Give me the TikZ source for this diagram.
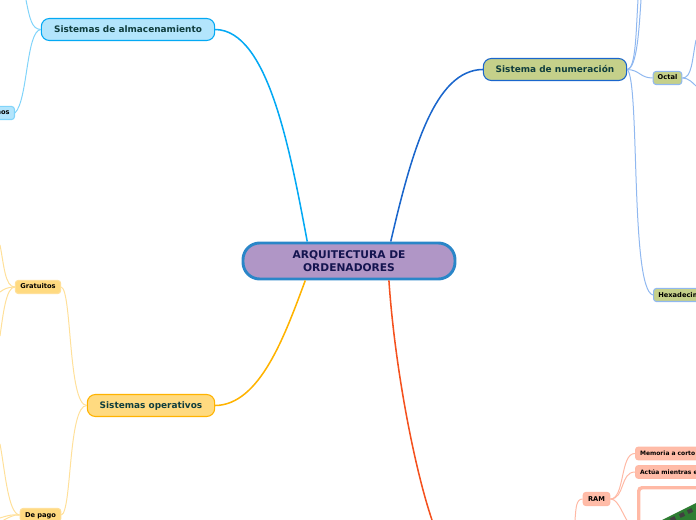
\documentclass[tikz,border=0pt]{standalone}
\usepackage{fontspec}
\setmainfont{DejaVu Sans}
\usetikzlibrary{positioning}
\definecolor{rootfill}{HTML}{B096C6}
\definecolor{rootline}{HTML}{2A86C8}
\definecolor{rootink}{HTML}{14144F}
\definecolor{topicink}{HTML}{0F3D3D}
\definecolor{storeline}{HTML}{03A9F4}
\definecolor{storefill}{HTML}{B3E5FC}
\definecolor{storethin}{HTML}{81D4FA}
\definecolor{numline}{HTML}{1A66CC}
\definecolor{numfill}{HTML}{C5D08A}
\definecolor{numthin}{HTML}{90B8F0}
\definecolor{opline}{HTML}{FFB300}
\definecolor{opfill}{HTML}{FFDA80}
\definecolor{opthin}{HTML}{FFE09A}
\definecolor{hardline}{HTML}{F4511E}
\definecolor{hardfill}{HTML}{FFBCA8}
\definecolor{hardthin}{HTML}{FFB9A5}
\definecolor{stickgreen}{HTML}{2E7D32}
\tikzset{
  rootbox/.style={draw=rootline, fill=rootfill, line width=2.2pt, rounded corners=12.5pt, minimum width=159pt, minimum height=27pt, inner sep=0pt, align=center, text=rootink, font=\fontsize{8}{10}\selectfont\bfseries},
  topicbox/.style={draw=#1, line width=.8pt, rounded corners=6pt, minimum height=16.5pt, inner sep=0pt, text height=5pt, text depth=1pt, text=topicink, font=\fontsize{6.7}{8}\selectfont\bfseries},
  subbox/.style={draw=#1, line width=.8pt, rounded corners=2.2pt, minimum height=9.8pt, inner sep=0pt, text height=3.8pt, text depth=.8pt, text=black, font=\fontsize{5}{6}\selectfont\bfseries},
  leafbox/.style={draw=hardthin, fill=hardfill, line width=.8pt, rounded corners=2.2pt, minimum height=9.6pt, text width=60pt, inner xsep=3.4pt, inner ysep=0pt, align=left, text=black, font=\fontsize{4.5}{6}\selectfont\bfseries},
  mainlink/.style={draw=#1, line width=1.15pt},
  thinlink/.style={draw=#1, line width=.75pt}
}
\begin{document}
\begin{tikzpicture}[x=0.75pt, y=-0.75pt]
  \clip (0,0) rectangle (696,520);
  \node[rootbox] (root) at (349,261) {ARQUITECTURA DE\\ORDENADORES};
  \node[topicbox=storeline, fill=storefill, minimum width=130pt] (store) at (128,29.5) {Sistemas de almacenamiento};
  \node[topicbox=numline, fill=numfill, minimum width=107.5pt] (num) at (555,69.5) {Sistema de numeración};
  \node[topicbox=opline, fill=opfill, minimum width=95.5pt] (ops) at (151,405.5) {Sistemas operativos};
  % subtopics
  \node[subbox=storethin, fill=storefill, text width=30pt, align=right, inner xsep=3.6pt, anchor=east] (ext) at (15,113) {nos};
  \node[subbox=numthin, fill=numfill, minimum width=21.5pt] (oct) at (667.5,78) {Octal};
  \node[subbox=numthin, fill=numfill, text width=50pt, inner xsep=3.6pt, align=left, anchor=west] (hex) at (653,295) {Hexadecim};
  \node[subbox=opthin, fill=opfill, minimum width=34pt] (free) at (38,287) {Gratuitos};
  \node[subbox=opthin, fill=opfill, minimum width=30.5pt] (paid) at (40.5,515) {De pago};
  \node[subbox=hardthin, fill=hardfill, minimum width=20pt, minimum height=10pt] (ram) at (596.5,499) {RAM};
  \node[leafbox, anchor=west] (short) at (635,453.5) {Memoria a corto};
  \node[leafbox, anchor=west] (acts) at (635,472) {Actúa mientras e};
  % picture frame of the ram
  \node[draw=hardthin, fill=white, line width=2.6pt, rounded corners=2.5pt, minimum width=70pt, minimum height=70pt, inner sep=0pt, anchor=north west] (frame) at (637,486) {};
  \fill[stickgreen] (662,520) -- (696,503) -- (696,530) -- (662,530) -- cycle;
  \foreach \x/\y in {673/519, 682/515, 690/511}
    \fill[black!75] (\x-3.15,\y-0.7) -- (\x+1.35,\y-2.9) -- (\x+3.15,\y+0.7) -- (\x-1.35,\y+2.9) -- cycle;
  % free ends
  \coordinate (storeup) at (26,0);
  \coordinate (numupa) at (638,0);
  \coordinate (numupb) at (641,0);
  \coordinate (octup) at (696,40);
  \coordinate (octdown) at (696,86);
  \coordinate (freeup) at (0,245);
  \coordinate (freeleft) at (0,292);
  \coordinate (freedown) at (0,336);
  \coordinate (paidup) at (0,444);
  \coordinate (paidlefta) at (0,518);
  \coordinate (paidleftb) at (0,522);
  \coordinate (ramdown) at (575,520);
  \coordinate (hardend) at (432,520);
  % main branches
  \draw[mainlink=storeline] (store.east) .. controls (268,30) and (290,150) .. (root.155);
  \draw[mainlink=numline] (root.25) .. controls (412,150) and (435,70) .. (num.west);
  \draw[mainlink=opline] (ops.east) .. controls (260,405) and (285,335) .. (root.204);
  \draw[mainlink=hardline] (root.-26) .. controls (395,370) and (415,470) .. (hardend);
  % thin branches
  \draw[thinlink=storethin] (store.west) .. controls (32,29) and (30,20) .. (storeup);
  \draw[thinlink=storethin] (store.west) .. controls (26,31) and (28,100) .. (ext.east);
  \draw[thinlink=numthin] (num.east) .. controls (636,69) and (636,30) .. (numupa);
  \draw[thinlink=numthin] (num.east) .. controls (637,68) and (639,30) .. (numupb);
  \draw[thinlink=numthin] (num.east) .. controls (640,70) and (640,78) .. (oct.west);
  \draw[thinlink=numthin] (num.east) .. controls (640,80) and (630,290) .. (hex.west);
  \draw[thinlink=numthin] (oct.east) .. controls (692,78) and (692,60) .. (octup);
  \draw[thinlink=numthin] (oct.east) .. controls (688,78) and (692,82) .. (octdown);
  \draw[thinlink=opthin] (ops.west) .. controls (68,405) and (72,290) .. (free.east);
  \draw[thinlink=opthin] (ops.west) .. controls (68,405) and (72,512) .. (paid.east);
  \draw[thinlink=opthin] (free.west) .. controls (5,287) and (4,265) .. (freeup);
  \draw[thinlink=opthin] (free.west) .. controls (8,287) and (4,289) .. (freeleft);
  \draw[thinlink=opthin] (free.west) .. controls (6,287) and (3,315) .. (freedown);
  \draw[thinlink=opthin] (paid.west) .. controls (8,514) and (5,470) .. (paidup);
  \draw[thinlink=opthin] (paid.west) .. controls (12,514) and (6,516) .. (paidlefta);
  \draw[thinlink=opthin] (paid.west) .. controls (14,514) and (8,518) .. (paidleftb);
  \draw[thinlink=hardthin] (ram.west) .. controls (576,499) and (576,508) .. (ramdown);
  \draw[thinlink=hardthin] (ram.east) .. controls (625,499) and (620,453) .. (short.west);
  \draw[thinlink=hardthin] (ram.east) .. controls (625,499) and (620,472) .. (acts.west);
  \draw[thinlink=hardthin] (ram.east) .. controls (620,499) and (622,518) .. (frame.west);
\end{tikzpicture}
\end{document}
